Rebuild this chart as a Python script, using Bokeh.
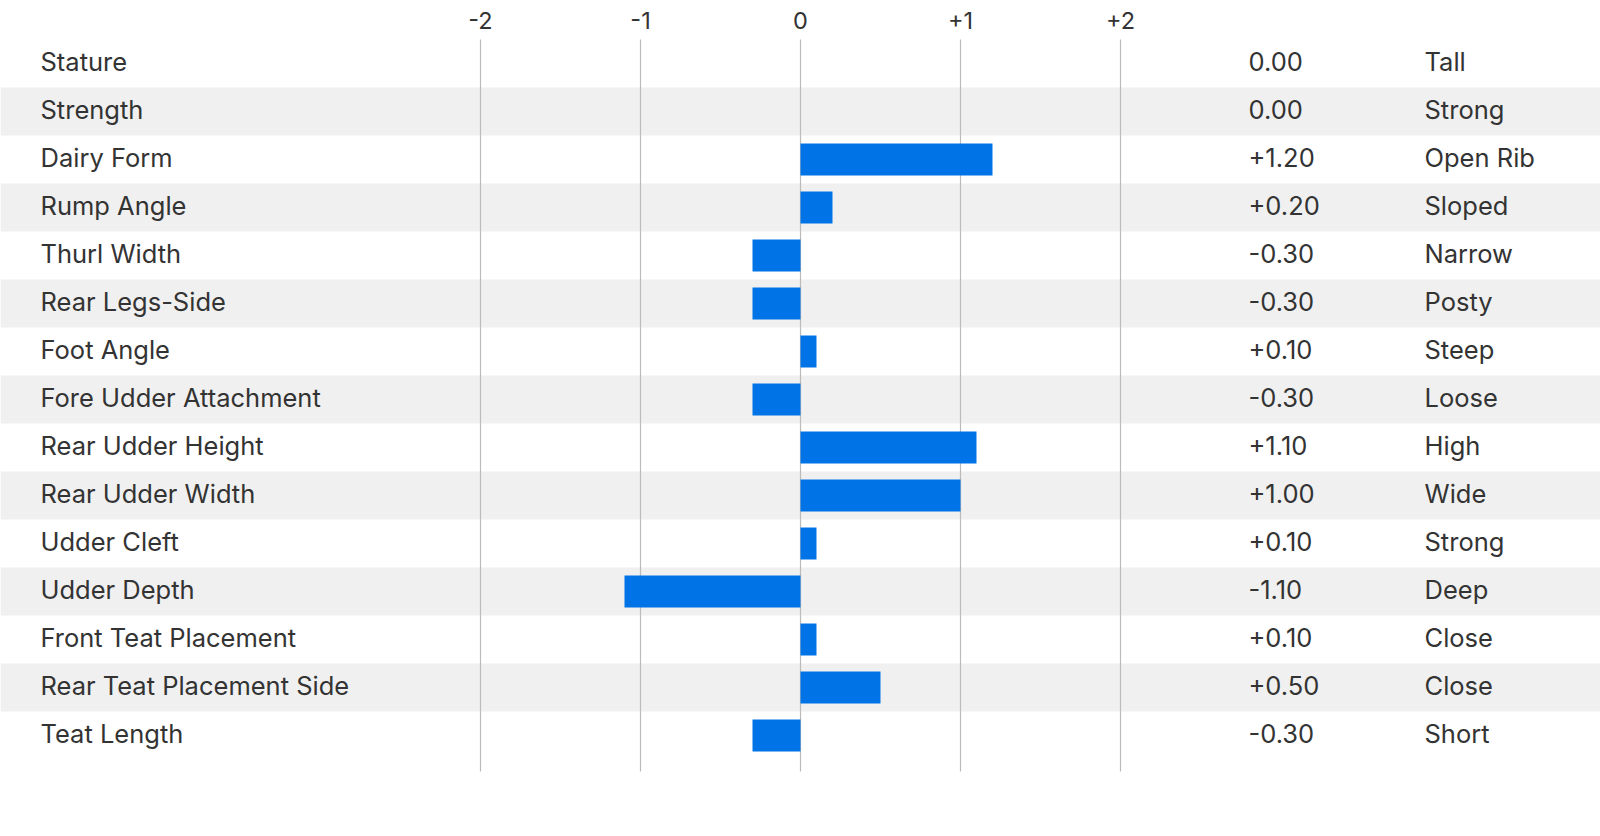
from bokeh.plotting import figure
from bokeh.models import ColumnDataSource, Range1d
from bokeh.core.properties import value
from bokeh.embed import file_html
from bokeh.resources import INLINE

traits = ["Stature", "Strength", "Dairy Form", "Rump Angle", "Thurl Width",
          "Rear Legs-Side", "Foot Angle", "Fore Udder Attachment", "Rear Udder Height",
          "Rear Udder Width", "Udder Cleft", "Udder Depth", "Front Teat Placement",
          "Rear Teat Placement Side", "Teat Length"]
scores = [0.0, 0.0, 1.2, 0.2, -0.3, -0.3, 0.1, -0.3, 1.1, 1.0, 0.1, -1.1, 0.1, 0.5, -0.3]
descriptors = ["Tall", "Strong", "Open Rib", "Sloped", "Narrow", "Posty", "Steep", "Loose",
               "High", "Wide", "Strong", "Deep", "Close", "Close", "Short"]
tick_values = [-2, -1, 0, 1, 2]
tick_labels = ["-2", "-1", "0", "+1", "+2"]

W, H = 1600, 826
ZERO_PX = 800
UNIT = 160.0
ROW = 48.0
ROW0_CENTER_PX = 63

x0 = -ZERO_PX / UNIT
x1 = (W - ZERO_PX) / UNIT
ytop = -ROW0_CENTER_PX / ROW
ybot = ytop + H / ROW

FONT = "Inter"
TXT = "#333333"

p = figure(width=W, height=H, output_backend="svg", toolbar_location=None,
           x_range=Range1d(x0, x1), y_range=Range1d(ybot, ytop),
           min_border=0, outline_line_color=None, background_fill_color="white",
           border_fill_color="white")
p.axis.visible = False
p.grid.visible = False

n = len(traits)
rows = list(range(n))

# alternating bands
band_rows = [r for r in rows if r % 2 == 1]
p.hbar(y=band_rows, left=x0, right=x1, height=1.0, fill_color="#F0F0F0", line_color=None)

# gridlines
p.segment(x0=tick_values, x1=tick_values, y0=[-0.5] * 5, y1=[n - 0.25] * 5,
          line_color="#BBBBBB", line_width=1.2)

# tick labels
p.text(x=tick_values, y=[-0.88] * 5, text=tick_labels, text_align="center",
       text_baseline="middle", text_font=value(FONT), text_font_size="23.5px",
       text_color=TXT, y_offset=-1)

# bars
src = ColumnDataSource(dict(
    y=rows, v=scores, trait=traits, desc=descriptors,
    vtxt=[("0.00" if s == 0 else f"{s:+.2f}") for s in scores],
))
p.hbar(y="y", left=0, right="v", height=2 / 3, source=src,
       fill_color="#0073E6", line_color=None)

# text columns
lab_x = (40 - ZERO_PX) / UNIT
val_x = (1248 - ZERO_PX) / UNIT
desc_x = (1424 - ZERO_PX) / UNIT
for xx, col in [(lab_x, "trait"), (val_x, "vtxt"), (desc_x, "desc")]:
    p.text(x=xx, y="y", text=col, source=src, text_align="left", text_baseline="middle",
           text_font=value(FONT), text_font_size="25.5px", text_color=TXT, y_offset=-2)

open("out.html", "w").write(file_html(p, INLINE))
